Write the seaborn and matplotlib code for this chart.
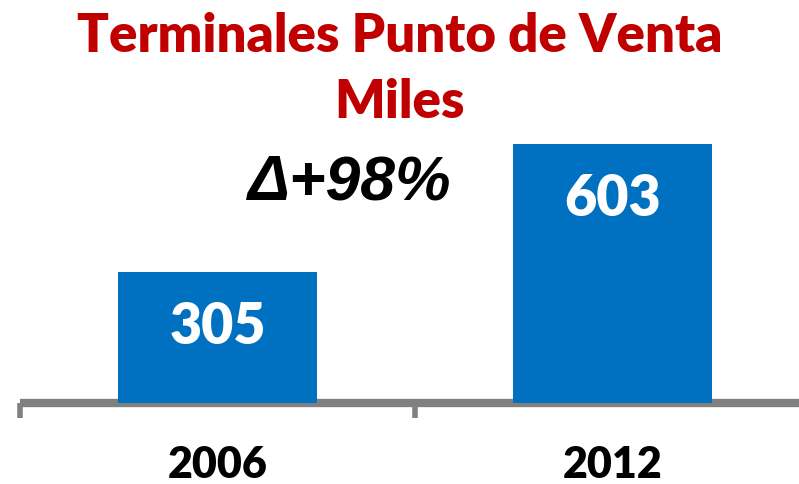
import matplotlib
matplotlib.use("Agg")
import matplotlib.pyplot as plt
import seaborn as sns
import pandas as pd
from matplotlib.ticker import FixedLocator

years = ["2006", "2012"]
values = [305, 603]
title_lines = ["Terminales Punto de Venta", "Miles"]
delta_text = "\u0394+98%"

df = pd.DataFrame({"year": years, "value": values})

sns.set_style("white")
fig = plt.figure(figsize=(7.99, 4.84), dpi=100)
W, H = 799, 484
x0, x1 = 20, 810
yb, yt = 403, 144
ax = fig.add_axes([x0 / W, (H - yb) / H, (x1 - x0) / W, (yb - yt) / H])

sns.barplot(data=df, x="year", y="value", order=years, color="#0070C0",
            saturation=1, width=0.504, ax=ax, zorder=3)
ax.set_xlim(-0.5, 1.5)
ax.set_ylim(0, 603)
for p in ax.patches:
    p.set_edgecolor("none")
    p.set_clip_on(False)

for s in ["top", "right", "left"]:
    ax.spines[s].set_visible(False)
ax.spines["bottom"].set_color("#808080")
ax.spines["bottom"].set_linewidth(6)
ax.spines["bottom"].set_zorder(2)
ax.spines["bottom"].set_capstyle("butt")
ax.set_yticks([])
ax.set_xlabel("")
ax.set_ylabel("")

ax.xaxis.set_major_locator(FixedLocator([-0.5, 0.5, 1.5]))
ax.xaxis.set_minor_locator(FixedLocator([0, 1]))
ax.set_xticklabels([], minor=False)
ax.set_xticklabels(years, minor=True, fontsize=31, fontweight="heavy",
                   family=["Lato", "DejaVu Sans"], color="black")
ax.tick_params(axis="x", which="minor", length=0, pad=30)
ax.tick_params(axis="x", which="major", length=11, width=4, color="#808080",
               direction="out", bottom=True)

for xi, v in enumerate(values):
    ax.text(xi, v - 127, str(v), ha="center", va="center",
            color="white", fontsize=40, fontweight="heavy",
            family=["Lato", "DejaVu Sans"], zorder=5)

fig.text(400 / W, 1 - 36 / H, title_lines[0], ha="center", va="center",
         color="#C00000", fontsize=38, fontweight="heavy", family=["Lato", "DejaVu Sans"])
fig.text(400 / W, 1 - 103 / H, title_lines[1], ha="center", va="center",
         color="#C00000", fontsize=38, fontweight="heavy", family=["Lato", "DejaVu Sans"])

fig.text(350 / W, 1 - 183 / H, delta_text, ha="center", va="center",
         color="black", fontsize=45, fontweight="bold", fontstyle="italic",
         family=["Liberation Sans", "DejaVu Sans"])

fig.savefig("out.png", dpi=100)
